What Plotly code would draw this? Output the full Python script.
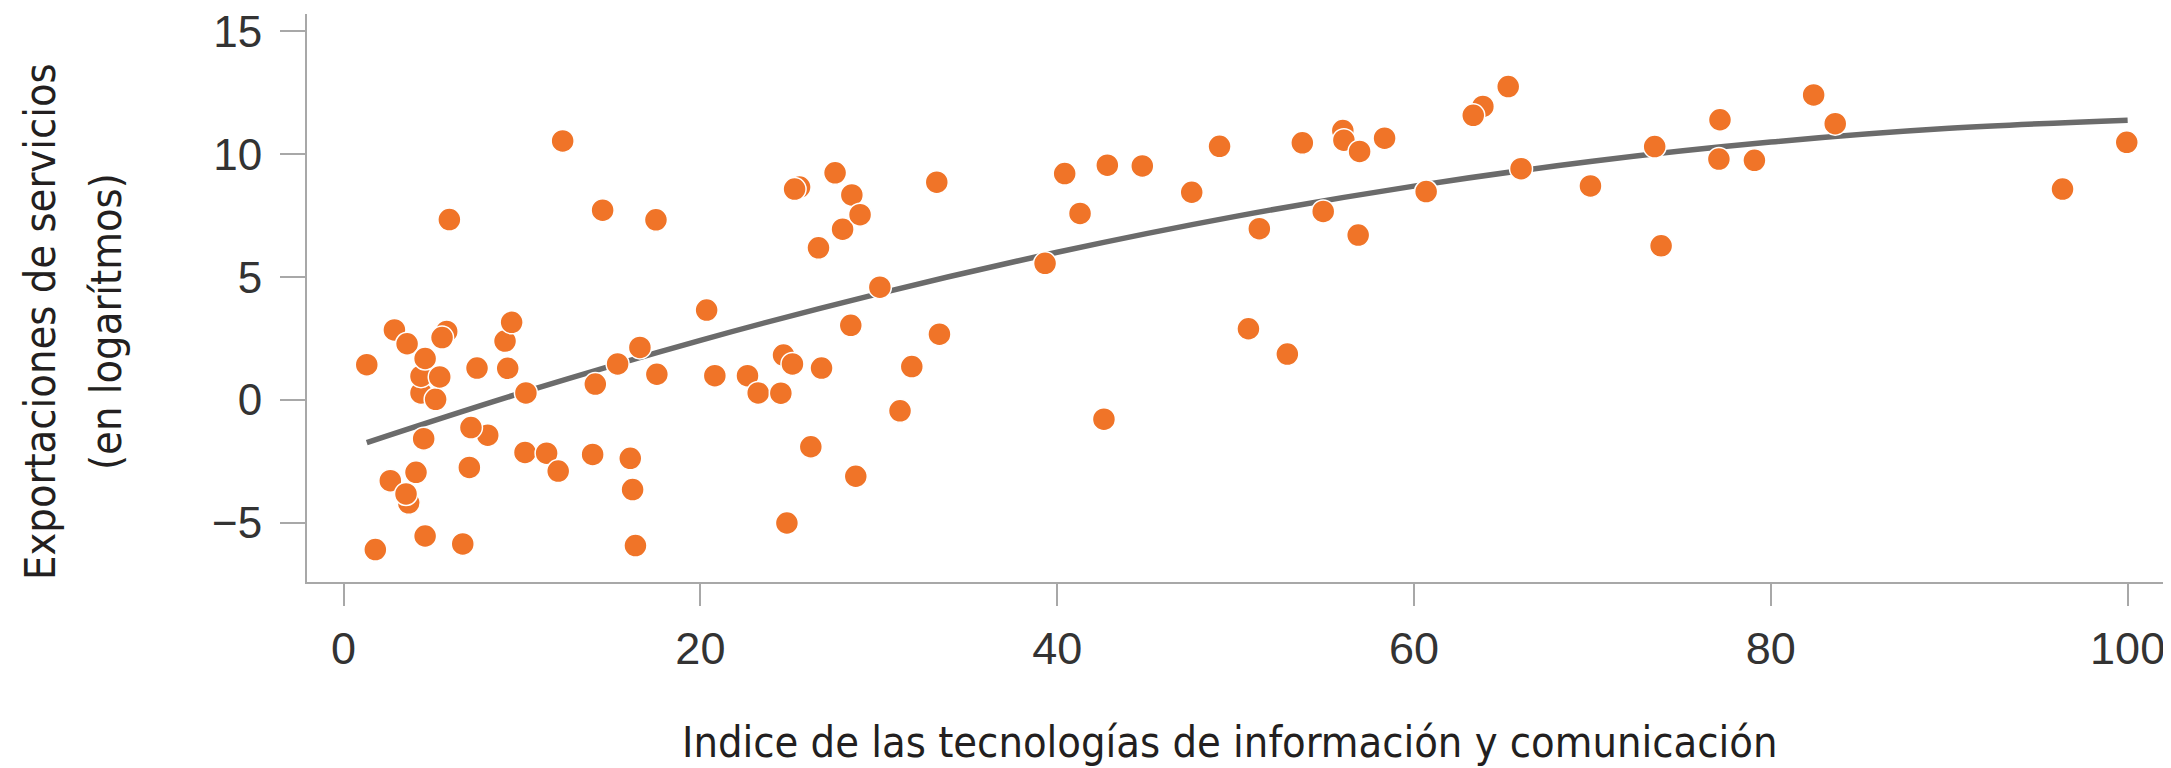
import plotly.graph_objects as go

# Scatter data: ICT index (x) vs services exports in logs (y)
ict_index = [1.30, 1.78, 2.62, 2.85, 3.65, 3.50, 3.56, 4.06, 4.34, 4.34,
             4.57, 4.49, 4.57, 5.16, 5.39, 5.78, 5.52, 5.93, 6.68, 8.08,
             7.14, 7.05, 7.48, 9.05, 9.20, 9.42, 10.22, 10.17, 11.38, 12.03,
             12.28, 13.96, 14.11, 14.52, 15.36, 16.07, 16.20, 16.36, 16.61, 17.51,
             17.56, 20.35, 20.81, 22.64, 23.24, 24.51, 24.66, 25.16, 24.85, 25.56,
             25.28, 26.19, 26.79, 26.62, 27.55, 27.97, 28.49, 28.43, 28.71, 28.95,
             30.06, 31.19, 31.85, 33.25, 33.40, 39.32, 40.42, 41.28, 42.62, 42.81,
             44.77, 47.54, 49.10, 50.72, 51.33, 52.90, 53.74, 54.91, 56.01, 56.07,
             56.95, 56.87, 58.35, 60.68, 63.86, 63.32, 65.28, 66.00, 69.89, 73.49,
             73.85, 77.15, 77.09, 79.08, 82.40, 83.61, 96.35, 99.95]
services_exports = [1.44, -6.08, -3.28, 2.85, -4.18, -3.82, 2.29, -2.94, 0.29, 0.97,
                    1.69, -1.57, -5.53, 0.03, 0.94, 2.79, 2.54, 7.34, -5.85, -1.43,
                    -1.12, -2.74, 1.30, 2.40, 1.29, 3.16, 0.29, -2.13, -2.16, -2.89,
                    10.54, -2.21, 0.65, 7.72, 1.47, -2.37, -3.64, -5.92, 2.14, 7.33,
                    1.05, 3.66, 0.99, 0.99, 0.29, 0.28, 1.83, 1.47, -5.00, 8.66,
                    8.58, -1.90, 1.30, 6.19, 9.24, 6.95, 8.34, 3.04, -3.10, 7.54,
                    4.59, -0.44, 1.36, 8.86, 2.68, 5.56, 9.21, 7.59, -0.78, 9.55,
                    9.52, 8.45, 10.32, 2.90, 6.97, 1.87, 10.46, 7.67, 10.96, 10.57,
                    10.11, 6.71, 10.65, 8.48, 11.94, 11.58, 12.75, 9.41, 8.71, 10.31,
                    6.27, 11.40, 9.80, 9.75, 12.41, 11.24, 8.58, 10.48]

# Trend curve
trend_x = [1.3, 10, 20, 30, 40, 50, 60, 70, 80, 90, 100]
trend_y = [-1.73, 0.30, 2.43, 4.33, 6.01, 7.47, 8.70, 9.71, 10.49, 11.05, 11.38]

x_ticks = [0, 20, 40, 60, 80, 100]
y_ticks = [-5, 0, 5, 10, 15]

x_title = "Indice de las tecnologías de información y comunicación"
y_title_lines = ["Exportaciones de servicios", "(en logarítmos)"]

ORANGE = "#F07428"
GREY_LINE = "#6b6b6b"
AXIS = "#a8a8a8"
TEXT = "#333333"
TITLE = "#231f20"
TICKFONT = "Liberation Sans, Arial, sans-serif"
TITLEFONT = "DejaVu Sans Condensed, Liberation Sans Narrow, DejaVu Sans, sans-serif"

# The page body has an 8px default margin, so the figure is 8px smaller
# than the window and everything is laid out 8px up/left.
FIG_W, FIG_H = 2163, 760
PLOT_L, PLOT_R, PLOT_T, PLOT_B = 299, 2158, 6, 574
PW, PH = PLOT_R - PLOT_L, PLOT_B - PLOT_T

fig = go.Figure()
fig.add_trace(go.Scatter(
    x=trend_x, y=trend_y, mode="lines",
    line=dict(color=GREY_LINE, width=5.5, shape="spline"),
    hoverinfo="skip", showlegend=False))
fig.add_trace(go.Scatter(
    x=ict_index, y=services_exports, mode="markers",
    marker=dict(size=23, color=ORANGE, line=dict(color="white", width=1.5)),
    showlegend=False))

fig.update_layout(
    width=FIG_W, height=FIG_H, autosize=False,
    margin=dict(l=PLOT_L, r=FIG_W - PLOT_R, t=PLOT_T, b=FIG_H - PLOT_B, pad=0),
    paper_bgcolor="white", plot_bgcolor="white",
    xaxis=dict(range=[-2.05, 102.15], tickvals=x_ticks, showgrid=False, zeroline=False,
               showline=True, linecolor=AXIS, linewidth=2, automargin=False,
               ticks="outside", ticklen=22, tickwidth=2, tickcolor=AXIS,
               ticklabelstandoff=4, ticklabeloverflow="allow",
               tickfont=dict(family=TICKFONT, size=45, color=TEXT)),
    yaxis=dict(range=[-7.4, 15.7], tickvals=y_ticks, showgrid=False, zeroline=False,
               showline=True, linecolor=AXIS, linewidth=2, automargin=False,
               ticks="outside", ticklen=25, tickwidth=2, tickcolor=AXIS,
               ticklabelstandoff=9, ticklabeloverflow="allow",
               tickfont=dict(family=TICKFONT, size=44, color=TEXT)),
    annotations=[
        dict(text=x_title, xref="paper", yref="paper",
             x=(1221.5 - PLOT_L) / PW, y=(PLOT_B - 734) / PH,
             xanchor="center", yanchor="middle", showarrow=False,
             font=dict(family=TITLEFONT, size=43, color=TITLE)),
        dict(text=y_title_lines[0], xref="paper", yref="paper",
             x=(32 - PLOT_L) / PW, y=(PLOT_B - 314) / PH,
             xanchor="center", yanchor="middle", showarrow=False, textangle=-90,
             font=dict(family=TITLEFONT, size=43, color=TITLE)),
        dict(text=y_title_lines[1], xref="paper", yref="paper",
             x=(98 - PLOT_L) / PW, y=(PLOT_B - 314) / PH,
             xanchor="center", yanchor="middle", showarrow=False, textangle=-90,
             font=dict(family=TITLEFONT, size=43, color=TITLE)),
    ],
)

fig.write_html("out.html")
